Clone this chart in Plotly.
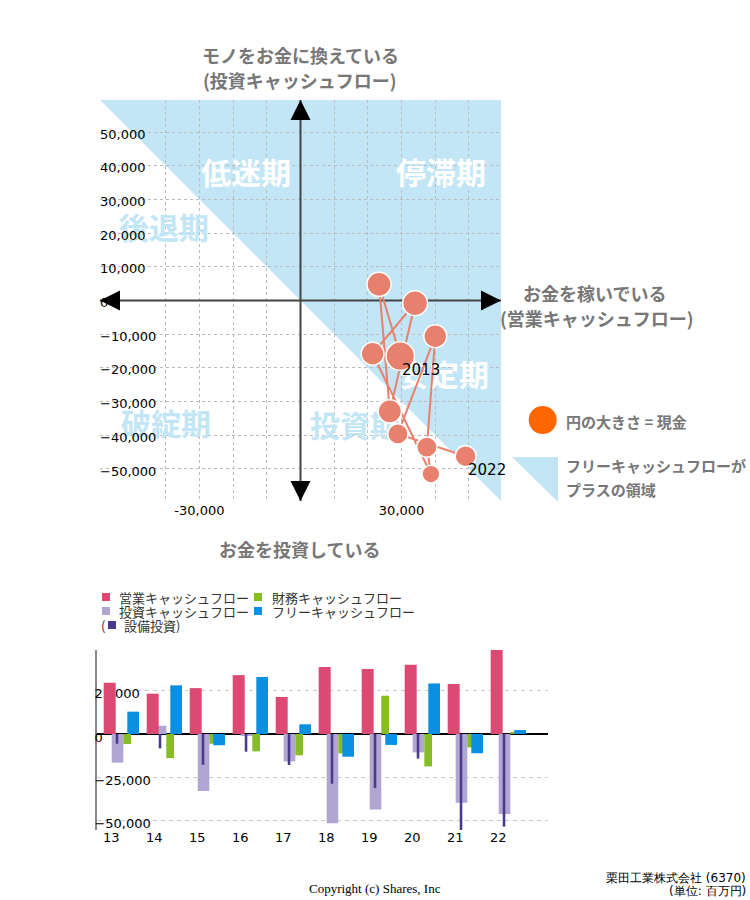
import plotly.graph_objects as go

# ---------------- data (百万円) ----------------
years = ["13", "14", "15", "16", "17", "18", "19", "20", "21", "22"]
year_labels = ["2013", "2014", "2015", "2016", "2017", "2018", "2019", "2020", "2021", "2022"]
operating_cf = [29600, 23300, 26500, 34000, 21400, 38700, 37500, 40000, 28900, 49000]
investing_cf = [-16500, 4800, -32900, -800, -15800, -51500, -43500, -10600, -39600, -46200]
financing_cf = [-5800, -13900, -5600, -10000, -12300, -11200, 22100, -18700, -7700, 1200]
free_cf = [12900, 28100, -6500, 32900, 5600, -13100, -6300, 29200, -11100, 2300]
capex = [-5600, -8300, -17700, -10200, -17900, -28700, -31200, -14200, -57000, -53500]
cash = [67000, 48000, 45000, 51000, 43000, 26000, 34000, 43000, 34000, 36000]

scatter_tick_vals = [-50000, -40000, -30000, -20000, -10000, 0, 10000, 20000, 30000, 40000, 50000]
scatter_x_tick_text = ["", "", "-30,000", "", "", "", "", "", "30,000", "", ""]
bar_tick_vals = [-50000, -25000, 0, 25000]

phase_names = ["低迷期", "停滞期", "後退期", "安定期", "破綻期", "投資期"]
bar_series_names = ["営業キャッシュフロー", "財務キャッシュフロー", "投資キャッシュフロー",
                    "フリーキャッシュフロー", "設備投資"]

# ---------------- styles ----------------
W, H = 750, 900
SALMON = "#e8806e"
REGION = "#c2e6f5"
GRAY = "#777777"
C_OP = "#dc4a74"
C_INV = "#b0a5d3"
C_CAPEX = "#4a3a8e"
C_FIN = "#86bd26"
C_FREE = "#0b8fe0"
JP = "Noto Sans CJK JP"
NUM = "DejaVu Sans"


def fx(px):
    return px / W


def fy(py):
    return 1 - py / H


# scatter subplot geometry (pixels)
SC_L, SC_R, SC_T, SC_B = 100, 501, 100, 501
R = 59500
UPX = 2 * R / (SC_R - SC_L)  # data units per pixel


def dx(px):
    return -R + (px - SC_L) * UPX


def dy(py):
    return R - (py - SC_T) * UPX


# bar subplot geometry
BA_L, BA_R, BA_T, BA_B = 97, 548, 650, 830

fig = go.Figure()

# ---- phase labels (under the bubbles) ----
phase_pos = [(246, 176), (441, 176), (164, 231), (444, 378), (166, 427), (355, 429)]
phase_col = ["white", "white", REGION, "white", REGION, REGION]
for name, (px, py), col in zip(phase_names, phase_pos, phase_col):
    fig.add_trace(go.Scatter(
        x=[dx(px)], y=[dy(py)], mode="text", text=[name],
        textfont=dict(family=JP, size=30, color=col, weight="bold"),
        textposition="middle center", hoverinfo="skip", xaxis="x", yaxis="y",
        cliponaxis=False,
    ))

# ---- bubbles ----
DMAX = 28.5
fig.add_trace(go.Scatter(
    x=operating_cf, y=investing_cf, mode="lines+markers",
    line=dict(color=SALMON, width=2),
    marker=dict(size=cash, sizemode="area", sizeref=2 * max(cash) / DMAX ** 2,
                color=SALMON, opacity=1, line=dict(color="white", width=1.5)),
    hoverinfo="skip", xaxis="x", yaxis="y", cliponaxis=False,
))

# ---- bars ----
bar_defs = [
    (investing_cf, C_INV, 0.009, 0.27),
    (operating_cf, C_OP, -0.177, 0.279),
    (capex, C_CAPEX, 0.103, 0.06),
    (financing_cf, C_FIN, 0.279, 0.179),
    (free_cf, C_FREE, 0.372, 0.272),
]
for vals, col, off, wid in bar_defs:
    fig.add_trace(go.Bar(
        x=years, y=vals, marker=dict(color=col, line=dict(width=0)),
        offset=off, width=wid, xaxis="x2", yaxis="y2", hoverinfo="skip",
    ))

shapes = []
# FCF-positive region (x + y > 0)
shapes.append(dict(type="path", xref="x", yref="y", layer="below",
                   path=f"M {-R},{R} L {R},{R} L {R},{-R} Z",
                   fillcolor=REGION, line=dict(width=0)))
# axis lines
shapes.append(dict(type="line", xref="x", yref="y", x0=-R, x1=R, y0=0, y1=0,
                   line=dict(color="#444", width=2), layer="between"))
shapes.append(dict(type="line", xref="x", yref="y", x0=0, x1=0, y0=-R, y1=R,
                   line=dict(color="#444", width=2), layer="between"))
# arrow heads
L_, HW = 20 * UPX, 10 * UPX
heads = [
    f"M {-R},0 L {-R + L_},{HW} L {-R + L_},{-HW} Z",
    f"M {R},0 L {R - L_},{HW} L {R - L_},{-HW} Z",
    f"M 0,{R} L {HW},{R - L_} L {-HW},{R - L_} Z",
    f"M 0,{-R} L {HW},{-R + L_} L {-HW},{-R + L_} Z",
]
for p in heads:
    shapes.append(dict(type="path", xref="x", yref="y", path=p, fillcolor="black",
                       line=dict(width=0), layer="above"))

# side legend: orange circle and triangle
shapes.append(dict(type="circle", xref="paper", yref="paper",
                   x0=fx(528.7), x1=fx(556.7), y0=fy(434), y1=fy(406),
                   fillcolor="#ff6600", line=dict(width=0)))
shapes.append(dict(type="path", xref="paper", yref="paper",
                   path=f"M {fx(512)},{fy(457)} L {fx(558)},{fy(457)} L {fx(558)},{fy(502)} Z",
                   fillcolor=REGION, line=dict(width=0)))

# bar legend squares
leg_items = [
    (bar_series_names[0], C_OP, 102, 597, 117),
    (bar_series_names[1], C_FIN, 254, 597, 270),
    (bar_series_names[2], C_INV, 102, 611, 117),
    (bar_series_names[3], C_FREE, 254, 611, 270),
]
annotations = []
for name, col, sx, sy, tx in leg_items:
    shapes.append(dict(type="rect", xref="paper", yref="paper",
                       x0=fx(sx), x1=fx(sx + 8), y0=fy(sy + 4), y1=fy(sy - 4),
                       fillcolor=col, line=dict(width=0)))
    annotations.append(dict(x=fx(tx), y=fy(sy), xref="paper", yref="paper", text=name,
                            showarrow=False, xanchor="left", yanchor="middle",
                            font=dict(family=JP, size=13, color="#333")))
shapes.append(dict(type="rect", xref="paper", yref="paper",
                   x0=fx(108), x1=fx(116), y0=fy(629), y1=fy(621),
                   fillcolor=C_CAPEX, line=dict(width=0)))
annotations.append(dict(x=fx(99), y=fy(625), xref="paper", yref="paper", text="(",
                        showarrow=False, xanchor="left", yanchor="middle",
                        font=dict(family=JP, size=13, color="#333")))
annotations.append(dict(x=fx(122), y=fy(625), xref="paper", yref="paper",
                        text=bar_series_names[4] + ")",
                        showarrow=False, xanchor="left", yanchor="middle",
                        font=dict(family=JP, size=13, color="#333")))

# category labels of the bar chart
for i, yr in enumerate(years):
    annotations.append(dict(x=i, y=fy(837), xref="x2", yref="paper",
                            text=yr, showarrow=False, xanchor="center", yanchor="middle",
                            font=dict(family=NUM, size=13, color="black")))

# year labels for first and last point
for i in (0, len(years) - 1):
    annotations.append(dict(x=operating_cf[i], y=investing_cf[i], xref="x", yref="y",
                            text=year_labels[i], showarrow=False, xanchor="left",
                            yanchor="top", xshift=0, yshift=-3,
                            font=dict(family=NUM, size=15, color="black")))

# gray captions
def cap(text, px, py, size=18, anchor="center"):
    annotations.append(dict(x=fx(px), y=fy(py), xref="paper", yref="paper", text=text,
                            showarrow=False, xanchor=anchor, yanchor="middle",
                            font=dict(family=JP, size=size, color=GRAY, weight="bold")))

cap("モノをお金に換えている", 300, 55)
cap("(投資キャッシュフロー)", 300, 80)
cap("お金を稼いでいる", 594, 293)
cap("(営業キャッシュフロー)", 597, 318)
cap("お金を投資している", 299, 549)
cap("円の大きさ = 現金", 564, 421, size=15, anchor="left")
cap("フリーキャッシュフローが", 564, 465, size=15, anchor="left")
cap("プラスの領域", 564, 490, size=15, anchor="left")

# footer
annotations.append(dict(x=fx(375), y=fy(888), xref="paper", yref="paper",
                        text="Copyright (c) Shares, Inc", showarrow=False,
                        xanchor="center", yanchor="middle",
                        font=dict(family="Liberation Serif", size=13, color="black")))
annotations.append(dict(x=fx(748), y=fy(878), xref="paper", yref="paper",
                        text="栗田工業株式会社 (6370)", showarrow=False,
                        xanchor="right", yanchor="middle",
                        font=dict(family=NUM, size=12, color="black")))
annotations.append(dict(x=fx(748), y=fy(891), xref="paper", yref="paper",
                        text="(単位: 百万円)", showarrow=False,
                        xanchor="right", yanchor="middle",
                        font=dict(family=NUM, size=12, color="black")))

grid = dict(showgrid=True, gridcolor="#bbbbbb", griddash="3px,3px", gridwidth=1)

fig.update_layout(
    width=W, height=H, margin=dict(l=0, r=0, t=0, b=0),
    paper_bgcolor="white", plot_bgcolor="rgba(0,0,0,0)",
    showlegend=False, hovermode=False, barmode="overlay",
    font=dict(family=NUM, size=13, color="black"),
    shapes=shapes, annotations=annotations,
    xaxis=dict(domain=[fx(SC_L), fx(SC_R)], range=[-R, R], tickvals=scatter_tick_vals,
               ticktext=scatter_x_tick_text, zeroline=False, showline=False, ticks="",
               tickfont=dict(family=NUM, size=13, color="black"), anchor="y",
               fixedrange=True, **grid),
    yaxis=dict(domain=[fy(SC_B), fy(SC_T)], range=[-R, R], tickvals=scatter_tick_vals,
               tickformat=",", ticklabelposition="inside", zeroline=False, showline=False,
               ticks="", ticklabelshift=2, ticklabelstandoff=-3,
               tickfont=dict(family=NUM, size=13, color="black"),
               anchor="x", fixedrange=True, **grid),
    xaxis2=dict(domain=[fx(BA_L), fx(BA_R)], type="category", range=[-0.333, 10.156],
                showgrid=False, zeroline=False, showline=False, ticks="",
                showticklabels=False, anchor="y2"),
    yaxis2=dict(domain=[fy(BA_B), fy(BA_T)], range=[-55400, 48500], tickvals=bar_tick_vals,
                tickformat=",", ticklabelposition="inside", ticks="", ticklabelshift=3,
                ticklabelstandoff=-3, ticklabeloverflow="allow",
                showline=True, linecolor="#888", linewidth=2,
                zeroline=True, zerolinecolor="black", zerolinewidth=1.5,
                showgrid=True, gridcolor="#cccccc", griddash="4px,4px", gridwidth=1,
                tickfont=dict(family=NUM, size=13, color="black"), anchor="x2",
                layer="below traces"),
)

fig.write_html("out.html")
